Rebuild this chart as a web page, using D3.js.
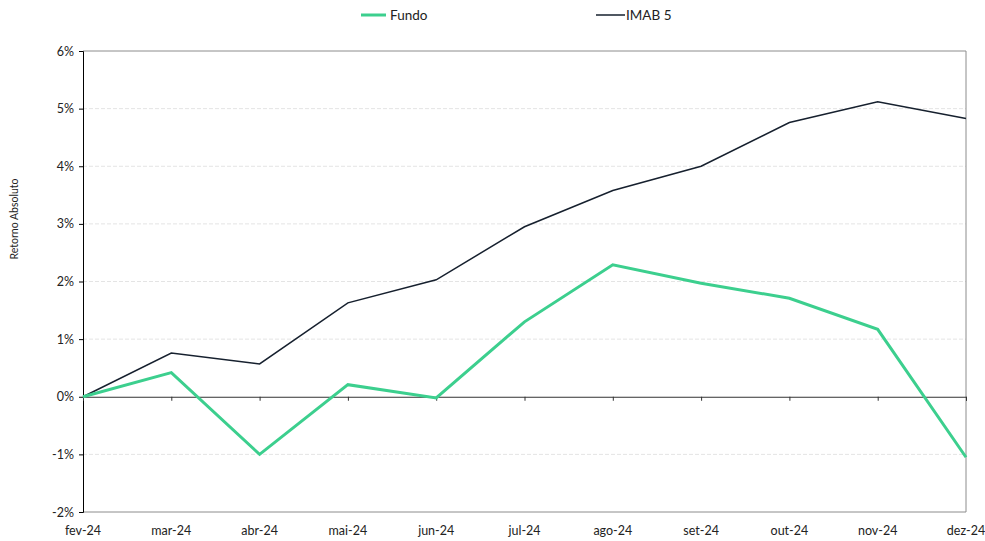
<!DOCTYPE html>
<html><head><meta charset="utf-8">
<script src="https://cdn.jsdelivr.net/npm/d3@7"></script>
<style>body{margin:0;background:#fff}svg{display:block}text{font-family:Lato,"Open Sans",sans-serif;fill:#222}</style>
</head><body><svg id="c" width="985" height="541"></svg>
<script>
const months = ["fev-24","mar-24","abr-24","mai-24","jun-24","jul-24","ago-24","set-24","out-24","nov-24","dez-24"];
const fundo = [0, 0.42, -1.00, 0.21, -0.02, 1.30, 2.29, 1.97, 1.71, 1.17, -1.05];
const imab5 = [0, 0.76, 0.57, 1.63, 2.03, 2.95, 3.58, 4.00, 4.76, 5.12, 4.83];
const yTicks = [-2,-1,0,1,2,3,4,5,6];

const svg = d3.select("#c");
const L=83, R=966, T=51, B=512;
const x = d3.scalePoint().domain(months).range([L,R]);
const y = d3.scaleLinear().domain([-2,6]).range([B,T]);

// gridlines
svg.append("g").selectAll("line").data(yTicks.filter(d=>d!==0 && d!==-2 && d!==6)).join("line")
  .attr("x1",L).attr("x2",R).attr("y1",d=>y(d)).attr("y2",d=>y(d))
  .attr("stroke","#e4e4e4").attr("stroke-dasharray","4,2").attr("stroke-width",1);
// border top/right/bottom
svg.append("path").attr("d",`M${L},${T}H${R}V${B}H${L}`).attr("fill","none").attr("stroke","#8c8c8c").attr("stroke-width",1);

// y axis
const ya = svg.append("g").attr("transform",`translate(${L},0)`)
  .call(d3.axisLeft(y).tickValues(yTicks).tickFormat(d=>d+"%").tickSize(4).tickPadding(5));
ya.select(".domain").attr("stroke","#000");
ya.selectAll(".tick line").attr("stroke","#000");
ya.selectAll("text").attr("font-size",12.5).attr("fill","#222");

// x axis at zero
const xa = svg.append("g").attr("transform",`translate(0,${y(0)})`)
  .call(d3.axisBottom(x).tickSize(4).tickFormat(""));
xa.select(".domain").attr("stroke","#333");
xa.selectAll(".tick line").attr("stroke","#333");
svg.append("g").selectAll("text").data(months).join("text")
  .attr("x",d=>x(d)).attr("y",535).attr("text-anchor","middle").attr("font-size",12.5).text(d=>d);

// y label
svg.append("text").attr("transform","translate(18,219) rotate(-90)").attr("text-anchor","middle")
  .attr("font-size",10.5).text("Retorno Absoluto");

const line = d3.line().x((d,i)=>x(months[i])).y(d=>y(d));
svg.append("path").datum(imab5).attr("d",line).attr("fill","none").attr("stroke","#16202e").attr("stroke-width",1.5);
svg.append("path").datum(fundo).attr("d",line).attr("fill","none").attr("stroke","#3ccf8e").attr("stroke-width",3);

// legend
const lg = svg.append("g");
lg.append("line").attr("x1",361).attr("x2",386).attr("y1",15).attr("y2",15).attr("stroke","#3ccf8e").attr("stroke-width",3);
lg.append("text").attr("x",390).attr("y",20).attr("font-size",13.5).text("Fundo");
lg.append("line").attr("x1",596).attr("x2",625).attr("y1",15).attr("y2",15).attr("stroke","#16202e").attr("stroke-width",1.5);
lg.append("text").attr("x",626).attr("y",20).attr("font-size",13.5).text("IMAB 5");
</script></body></html>
